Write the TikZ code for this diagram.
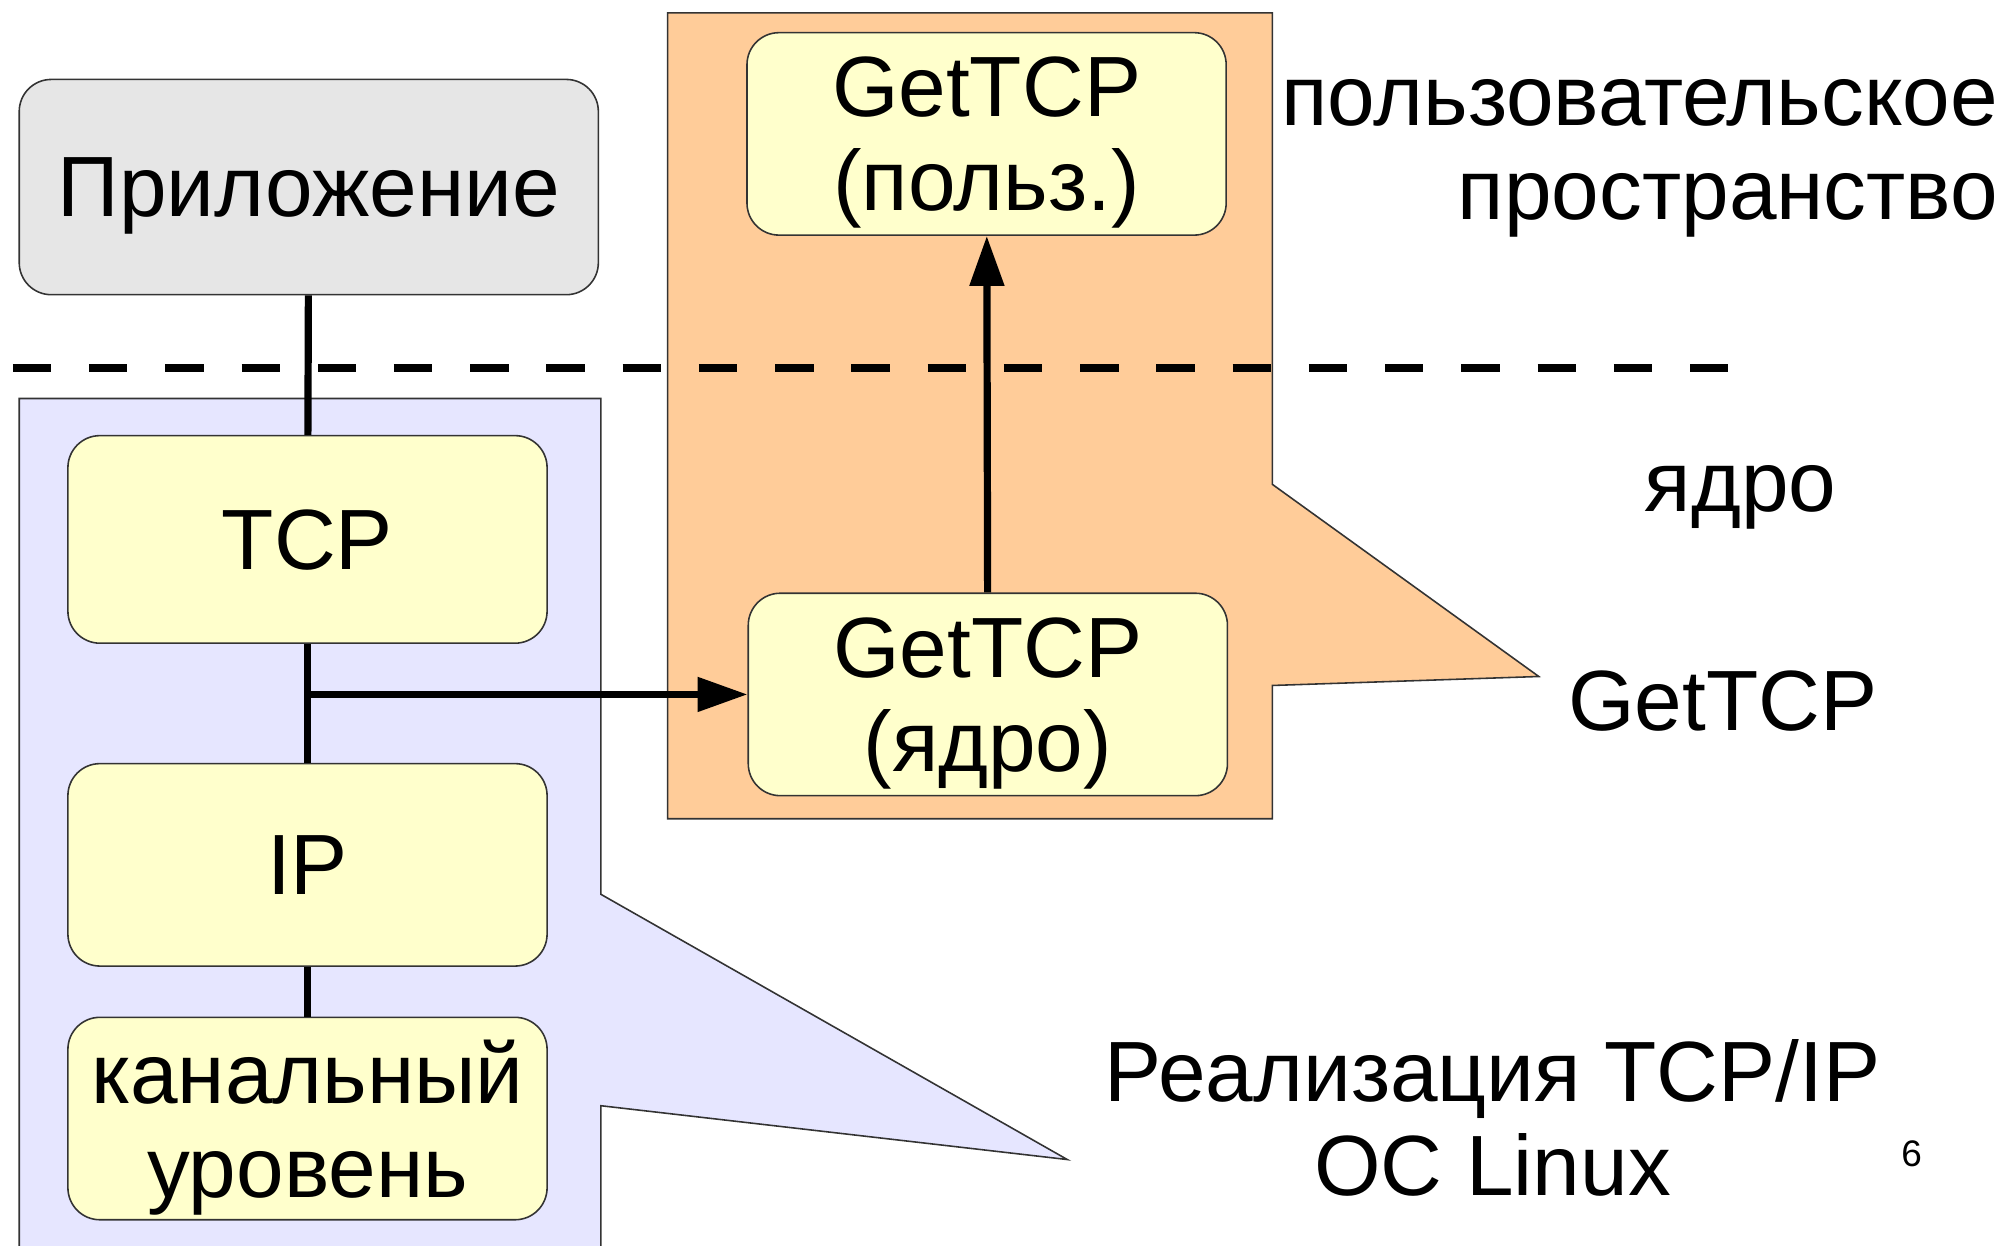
\documentclass[tikz,border=0pt]{standalone}
\usepackage{fontspec}
\setmainfont{Liberation Sans}
\usepackage{tikz}
\usetikzlibrary{arrows.meta}
\usepackage{color}
\definecolor{Box-gray}{RGB}{230,230,230}
\definecolor{Box-yellow}{RGB}{255,255,204}
\definecolor{Kern-blue}{RGB}{230,230,255}
\definecolor{Get-orange}{RGB}{255,204,153}
\newcommand{\slidefont}{\fontsize{19pt}{20.9pt}\selectfont}

\begin{document}
\begin{tikzpicture}%[scale=\tikzscale]
    \path[use as bounding box] (0.0, 0.0) rectangle (15.68, 9.72);

    \tikzset{ appbox/.style ={draw=black!80, fill=Box-gray,   rounded corners=0.25cm, line width=0.35pt, minimum width=4.52cm, minimum height=1.68cm, inner sep=0pt, text depth=0pt, font=\slidefont} }
    \tikzset{ layer/.style  ={draw=black!80, fill=Box-yellow, rounded corners=0.25cm, line width=0.35pt, minimum width=3.74cm, minimum height=1.58cm, inner sep=0pt, text depth=0pt, align=center, font=\slidefont} }
    \tikzset{ lbl/.style    ={inner sep=0pt, text depth=0pt, font=\slidefont} }
    \tikzset{ wire/.style   ={line width=1.6pt} }
    \tikzset{ callout/.style={draw=black!80, line width=0.35pt} }

    % kernel TCP/IP stack and GetTCP areas
    \filldraw[callout, fill=Kern-blue]  (0.15,-0.10) -- (0.15,6.61) -- (4.69,6.61) -- (4.69,2.74) -- (8.33,0.67) -- (4.69,1.09) -- (4.69,-0.10);
    \filldraw[callout, fill=Get-orange] (5.21,9.62) -- (9.93,9.62) -- (9.93,5.94) -- (12.01,4.44) -- (9.93,4.37) -- (9.93,3.33) -- (5.21,3.33) -- cycle;

    % user space / kernel border
    \draw[line width=1.7pt, dash pattern=on 0.30cm off 0.295cm] (0.10,6.85) -- (13.62,6.85);

    \node[appbox] (app)  at (2.41, 8.260) {Приложение};
    \node[layer, minimum height=1.62cm] (tcp) at (2.40, 5.510) {TCP};
    \node[layer] (ip)   at (2.40, 2.970) {IP};
    \node[layer] (link) at (2.40, 0.990) {канальный\\уровень};
    \node[layer] (gu)   at (7.70, 8.675) {GetTCP\\(польз.)};
    \node[layer] (gk)   at (7.71, 4.300) {GetTCP\\(ядро)};

    \node[lbl, anchor=east, align=right] (uspace) at (15.60, 8.555) {пользовательское\\пространство};
    \node[lbl] (kspace)  at (13.585, 5.910) {ядро};
    \node[lbl] (getlbl)  at (13.445, 4.250) {GetTCP};
    \node[lbl, align=center] (impl) at (11.65, 0.995) {Реализация TCP/IP\\ОС Linux};
    \node[lbl, font=\fontsize{8.2pt}{10pt}\selectfont] (pnum) at (14.92, 0.72) {6};

    \draw[wire] (app) -- (tcp);
    \draw[wire] (tcp) -- (ip);
    \draw[wire] (ip)  -- (link);

    \coordinate (tap) at (tcp.south |- gk.west);
    \draw[wire, ->, >={Triangle[length=3.9mm, width=2.6mm]}] (tap) -- (gk);
    \draw[wire, ->, >={Triangle[length=3.9mm, width=2.6mm]}] (gk)  -- (gu);
    % \draw[wire, ->] (gk.north) -- (gu.south);
\end{tikzpicture}
\end{document}
